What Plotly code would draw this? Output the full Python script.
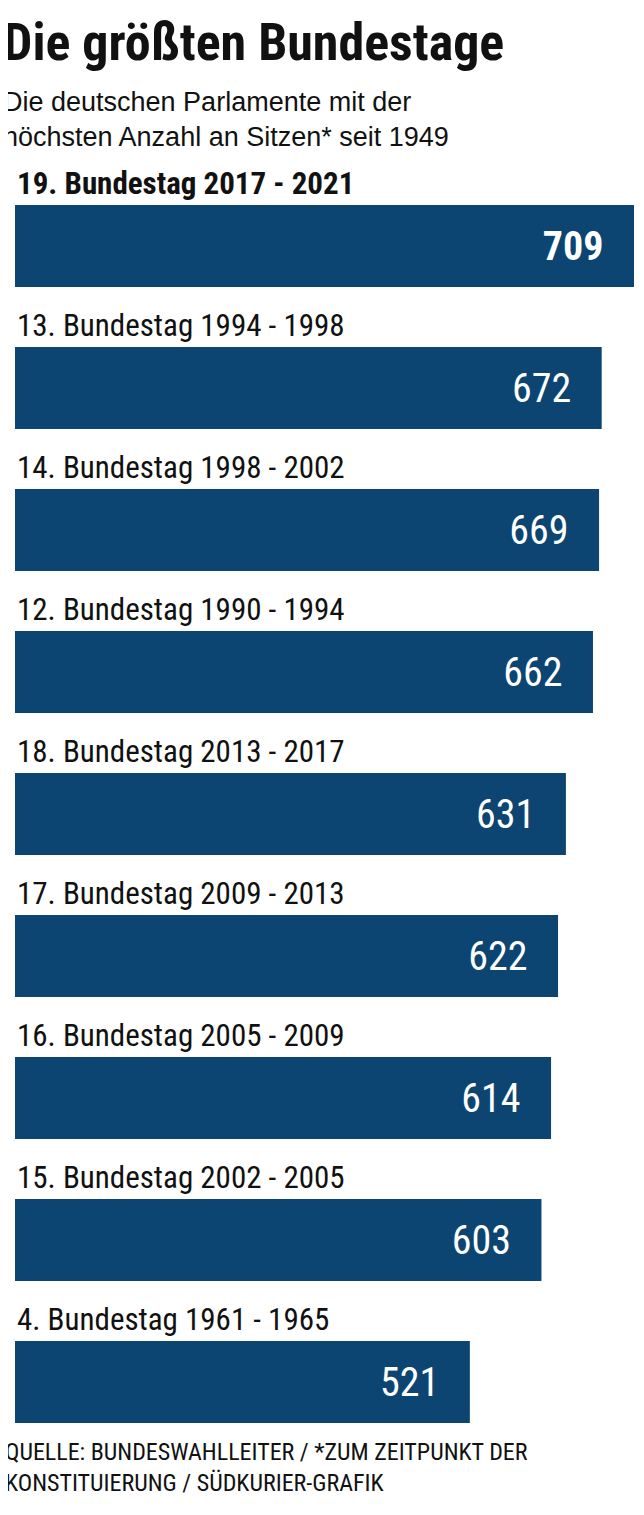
import plotly.graph_objects as go

# Bundestage sorted by seat count
labels = ['19. Bundestag 2017 - 2021', '13. Bundestag 1994 - 1998', '14. Bundestag 1998 - 2002',
          '12. Bundestag 1990 - 1994', '18. Bundestag 2013 - 2017', '17. Bundestag 2009 - 2013',
          '16. Bundestag 2005 - 2009', '15. Bundestag 2002 - 2005', '4. Bundestag 1961 - 1965']
seats = [709, 672, 669, 662, 631, 622, 614, 603, 521]

font = 'Liberation Sans Narrow, Roboto Condensed, Liberation Sans, sans-serif'
pos = list(range(len(seats)))
pad = '\u00a0\u00a0\u00a0'
texts = [('<b>%d</b>' % s if i == 0 else str(s)) + pad for i, s in enumerate(seats)]

fig = go.Figure(go.Bar(
    x=seats, y=pos, orientation='h', width=0.577,
    marker=dict(color='#0c4571', line=dict(width=0)),
    text=texts, textposition='inside', insidetextanchor='end',
    textfont=dict(color='white', size=40, family=font),
    hoverinfo='skip'
))

anns = []
for i, lab in enumerate(labels):
    anns.append(dict(x=0, y=i - 0.44, xref='x', yref='y', text='<b>%s</b>' % lab if i == 0 else lab,
                     showarrow=False, xanchor='left', yanchor='middle', xshift=0,
                     font=dict(size=31, color='#111', family=font)))

anns += [
    dict(text='<b>Die größten Bundestage</b>', x=0, y=1.117, xref='paper', yref='paper',
         xanchor='left', yanchor='top', xshift=-14, showarrow=False,
         font=dict(size=52, color='#111', family=font)),
    dict(text='Die deutschen Parlamente mit der<br>höchsten Anzahl an Sitzen* seit 1949',
         x=0, y=1.0586, xref='paper', yref='paper', xanchor='left', yanchor='top',
         xshift=-14, showarrow=False, align='left',
         font=dict(size=27, color='#111', family='Liberation Sans, Arial, sans-serif')),
    dict(text='QUELLE: BUNDESWAHLLEITER / *ZUM ZEITPUNKT DER<br>KONSTITUIERUNG / SÜDKURIER-GRAFIK',
         x=0, y=0, xref='paper', yref='paper', xanchor='left', yanchor='top',
         yshift=4, xshift=-12, showarrow=False, align='left',
         font=dict(size=24, color='#111', family=font)),
]

fig.update_layout(
    width=644, height=1515, margin=dict(l=7, r=18, t=152, b=83),
    paper_bgcolor='white', plot_bgcolor='white', showlegend=False,
    xaxis=dict(range=[0, 709], visible=False),
    yaxis=dict(range=[8.408, -0.606], visible=False),
    annotations=anns,
)

fig.write_html('out.html')
